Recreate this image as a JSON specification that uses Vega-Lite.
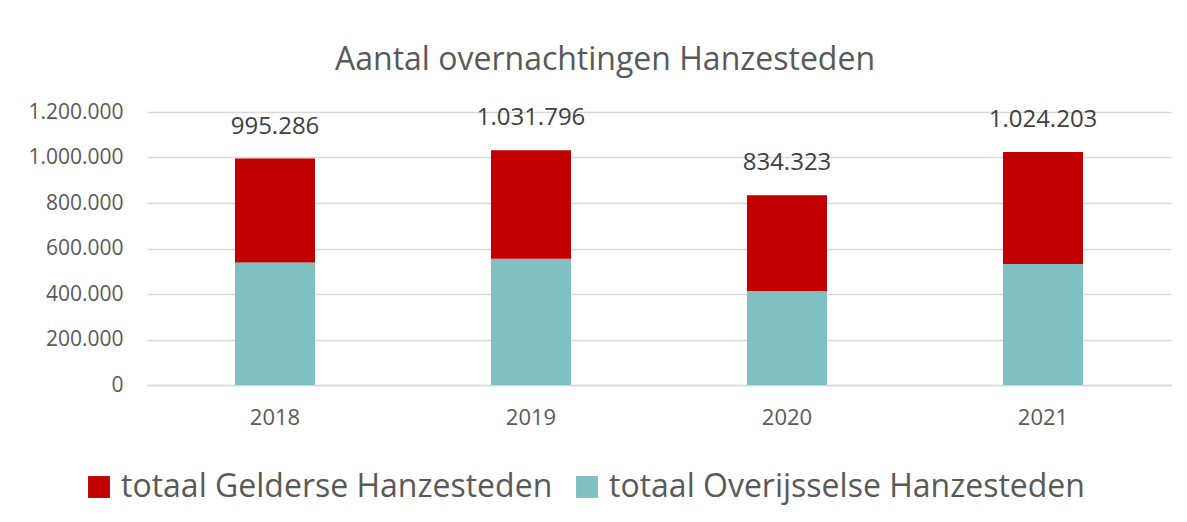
{
  "$schema": "https://vega.github.io/schema/vega-lite/v6.json",
  "autosize": "none",
  "width": 1024,
  "height": 273,
  "padding": {"left": 147, "top": 112, "right": 16, "bottom": 137},
  "background": "white",
  "title": {
    "text": "Aantal overnachtingen Hanzesteden",
    "font": "Open Sans",
    "fontSize": 32,
    "fontWeight": "normal",
    "color": "#595959",
    "anchor": "middle",
    "frame": "group",
    "offset": 24,
    "dx": -54
  },
  "data": {
    "values": [
      {"jaar": "2018", "reeks": "totaal Overijsselse Hanzesteden", "aantal": 538000},
      {"jaar": "2018", "reeks": "totaal Gelderse Hanzesteden", "aantal": 457286},
      {"jaar": "2019", "reeks": "totaal Overijsselse Hanzesteden", "aantal": 555000},
      {"jaar": "2019", "reeks": "totaal Gelderse Hanzesteden", "aantal": 476796},
      {"jaar": "2020", "reeks": "totaal Overijsselse Hanzesteden", "aantal": 413000},
      {"jaar": "2020", "reeks": "totaal Gelderse Hanzesteden", "aantal": 421323},
      {"jaar": "2021", "reeks": "totaal Overijsselse Hanzesteden", "aantal": 532000},
      {"jaar": "2021", "reeks": "totaal Gelderse Hanzesteden", "aantal": 492203}
    ]
  },
  "encoding": {
    "x": {
      "field": "jaar",
      "type": "ordinal",
      "title": null,
      "scale": {"paddingInner": 0.6875, "paddingOuter": 0.34375},
      "axis": {
        "labelAngle": 0,
        "labelFont": "Open Sans",
        "labelFontSize": 22,
        "labelColor": "#595959",
        "labelPadding": 22,
        "ticks": false,
        "domainColor": "#d9d9d9",
        "domainWidth": 1.5
      }
    }
  },
  "layer": [
    {
      "mark": {"type": "bar"},
      "encoding": {
        "y": {
          "field": "aantal",
          "type": "quantitative",
          "aggregate": "sum",
          "stack": "zero",
          "title": null,
          "scale": {"domain": [0, 1200000]},
          "axis": {
            "values": [0, 200000, 400000, 600000, 800000, 1000000, 1200000],
            "format": ",d",
            "labelFont": "Open Sans",
            "labelFontSize": 21,
            "labelColor": "#595959",
            "labelPadding": 24,
            "ticks": false,
            "domain": false,
            "gridColor": "#d9d9d9",
            "gridWidth": 1.5
          }
        },
        "color": {
          "field": "reeks",
          "type": "nominal",
          "title": null,
          "scale": {
            "domain": ["totaal Gelderse Hanzesteden", "totaal Overijsselse Hanzesteden"],
            "range": ["#c00000", "#80c0c2"]
          },
          "legend": {
            "orient": "none",
            "direction": "horizontal",
            "legendX": -64,
            "legendY": 359,
            "symbolType": "square",
            "symbolSize": 480,
            "symbolOpacity": 1,
            "symbolStrokeWidth": 0,
            "labelFont": "Open Sans",
            "labelFontSize": 32,
            "labelColor": "#595959",
            "labelLimit": 700,
            "columnPadding": 18,
            "labelOffset": 6
          }
        },
        "order": {"field": "reeks", "sort": "descending"}
      }
    },
    {
      "mark": {
        "type": "text",
        "font": "Open Sans",
        "fontSize": 24,
        "color": "#404040",
        "baseline": "middle",
        "dy": -32
      },
      "encoding": {
        "y": {"field": "aantal", "type": "quantitative", "aggregate": "sum"},
        "text": {"field": "aantal", "type": "quantitative", "aggregate": "sum", "format": ",d"}
      }
    }
  ],
  "config": {
    "view": {"stroke": null},
    "locale": {
      "number": {"decimal": ",", "thousands": ".", "grouping": [3], "currency": ["€ ", ""]}
    }
  }
}
